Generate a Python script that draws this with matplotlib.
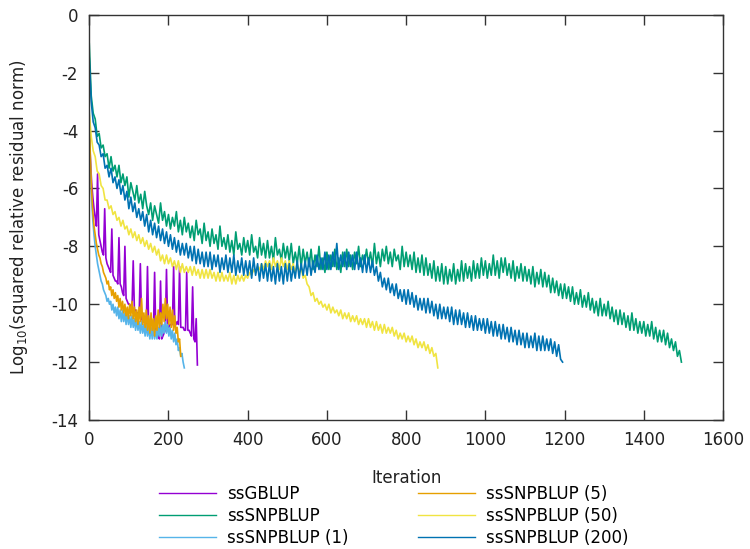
import numpy as np
import matplotlib
matplotlib.use("Agg")
import matplotlib.pyplot as plt

plt.rcParams['axes.unicode_minus'] = False
plt.rcParams['font.family'] = 'DejaVu Sans'

# log10 of squared relative residual norm
# long runs sampled every 5 iterations, short runs every 3
step_long = 5
step_short = 3

ssgblup = [-4.0, -5.0, -5.8, -6.3, -6.7, -7.0, -7.3, -5.5, -7.6, -7.8, -8.0, -8.2, -8.3, -6.7,
           -8.4, -8.6, -8.7, -8.8, -8.9, -7.4, -9.0, -9.1, -9.2, -9.2, -9.3, -7.7, -9.3, -9.4,
           -9.6, -9.7, -8.0, -9.8, -9.9, -10.0, -10.0, -10.1, -10.1, -8.5, -10.2, -10.2, -10.3,
           -10.3, -10.4, -8.6, -10.5, -10.6, -10.6, -10.7, -10.8, -8.7, -10.8, -10.9, -10.9,
           -11.0, -11.0, -8.9, -11.0, -11.1, -11.1, -11.2, -9.2, -11.2, -11.1, -11.0, -10.9,
           -8.8, -10.8, -10.8, -10.7, -10.7, -10.7, -8.7, -10.7, -10.7, -10.6, -10.7, -8.7,
           -10.8, -10.8, -10.8, -10.9, -10.9, -8.9, -10.9, -10.9, -11.0, -11.1, -9.4, -11.2,
           -11.3, -10.5, -12.1]

sssnpblup = [
    -1.0, -2.8, -3.4, -3.6, -4.2, -4.1, -4.6, -4.5, -4.9, -4.8,
    -5.3, -4.9, -5.4, -5.2, -5.6, -5.2, -5.8, -5.5, -5.9, -5.6,
    -6.3, -5.8, -6.1, -6.4, -5.9, -6.5, -6.2, -6.7, -6.1, -6.6,
    -6.9, -6.5, -7.1, -6.6, -6.9, -7.2, -6.5, -7.1, -6.8, -7.3,
    -6.9, -7.4, -7.0, -7.3, -6.8, -7.5, -7.1, -7.6, -7.0, -7.5,
    -7.2, -7.7, -7.3, -7.8, -7.1, -7.6, -7.4, -7.9, -7.2, -7.8,
    -7.5, -8.0, -7.4, -7.9, -7.6, -8.1, -7.3, -8.0, -7.7, -8.1,
    -7.6, -8.2, -7.8, -8.3, -7.5, -8.1, -7.9, -8.3, -7.7, -8.2,
    -7.8, -8.3, -7.6, -8.2, -8.0, -8.4, -7.7, -8.3, -7.9, -8.4,
    -7.8, -8.4, -8.0, -8.5, -7.7, -8.3, -8.1, -8.5, -7.9, -8.4,
    -8.0, -8.5, -7.9, -8.6, -8.2, -8.6, -8.0, -8.7, -8.1, -8.6,
    -8.2, -8.7, -8.1, -8.8, -8.3, -8.7, -8.0, -8.8, -8.4, -8.9,
    -8.2, -8.8, -8.3, -8.7, -8.1, -8.8, -8.4, -8.9, -8.2, -8.7,
    -8.1, -8.7, -8.3, -8.8, -8.2, -8.6, -8.0, -8.7, -8.3, -8.6,
    -8.1, -8.6, -8.2, -8.7, -7.9, -8.6, -8.2, -8.7, -8.1, -8.5,
    -8.0, -8.6, -8.2, -8.7, -8.1, -8.5, -8.3, -8.8, -8.0, -8.7,
    -8.2, -8.7, -8.3, -8.8, -8.2, -8.9, -8.4, -8.9, -8.3, -9.0,
    -8.4, -9.0, -8.6, -9.1, -8.5, -9.2, -8.7, -9.2, -8.6, -9.3,
    -8.7, -9.3, -8.8, -9.2, -8.6, -9.3, -8.8, -9.2, -8.5, -9.2,
    -8.6, -9.1, -8.7, -9.2, -8.5, -9.1, -8.6, -9.1, -8.4, -9.0,
    -8.5, -9.1, -8.6, -9.0, -8.3, -9.0, -8.5, -9.1, -8.4, -8.9,
    -8.4, -9.0, -8.6, -9.1, -8.5, -9.2, -8.7, -9.1, -8.6, -9.2,
    -8.7, -9.2, -8.8, -9.3, -8.7, -9.4, -8.9, -9.3, -8.8, -9.4,
    -8.9, -9.4, -9.0, -9.6, -9.1, -9.6, -9.2, -9.7, -9.3, -9.8,
    -9.3, -9.8, -9.4, -9.9, -9.4, -10.0, -9.6, -10.0, -9.5, -10.1,
    -9.7, -10.1, -9.6, -10.2, -9.8, -10.3, -9.9, -10.4, -9.8, -10.4,
    -10.0, -10.4, -9.9, -10.5, -10.1, -10.6, -10.2, -10.7, -10.2, -10.7,
    -10.3, -10.8, -10.4, -10.9, -10.3, -10.9, -10.5, -11.0, -10.6, -11.0,
    -10.6, -11.1, -10.7, -11.1, -10.6, -11.2, -10.8, -11.3, -10.9, -11.3,
    -10.9, -11.4, -11.0, -11.5, -11.2, -11.6, -11.3, -11.8, -11.6, -12.0]

sssnpblup_1 = [-3.3, -5.3, -6.4, -7.1, -7.6, -8.0, -8.3, -8.6, -8.8, -9.0, -9.2, -9.3, -9.5, -9.6,
               -9.7, -9.9, -9.8, -10.0, -9.9, -10.2, -10.0, -10.3, -10.1, -10.4, -10.1, -10.5,
               -10.2, -10.6, -10.2, -10.6, -10.3, -10.7, -10.3, -10.7, -10.4, -10.8, -10.4, -10.8,
               -10.5, -10.9, -10.5, -10.9, -10.6, -11.0, -10.6, -11.0, -10.7, -11.1, -10.7, -11.1,
               -10.8, -11.2, -10.8, -11.2, -10.8, -11.2, -10.9, -11.2, -10.8, -11.1, -10.7, -11.1,
               -10.7, -11.0, -10.6, -11.0, -10.7, -11.1, -10.8, -11.2, -10.9, -11.3, -11.0, -11.4,
               -11.2, -11.6, -11.5, -11.8, -11.7, -12.0, -12.2]

sssnpblup_5 = [-3.5, -5.0, -6.1, -6.8, -7.3, -7.6, -7.9, -8.1, -8.3, -8.4, -8.6, -8.7, -8.9, -9.0,
               -9.1, -9.3, -9.2, -9.5, -9.4, -9.7, -9.5, -9.8, -9.6, -9.9, -9.7, -10.1, -9.8,
               -10.2, -9.9, -10.3, -10.0, -10.4, -10.1, -10.5, -10.0, -10.4, -9.9, -10.5, -10.1,
               -10.6, -10.2, -10.7, -10.1, -10.6, -9.8, -10.7, -10.3, -10.8, -10.2, -10.9, -10.4,
               -11.0, -10.3, -10.9, -10.5, -11.1, -10.4, -10.9, -10.2, -10.8, -10.3, -10.7, -10.0,
               -10.6, -9.8, -10.5, -10.0, -10.7, -10.1, -10.8, -10.2, -10.9, -10.4, -11.0, -10.8,
               -11.3, -11.2, -11.8]

sssnpblup_50 = [
    -3.4, -4.2, -4.7, -4.9, -5.4, -5.5, -5.9, -6.0, -6.4, -6.4,
    -6.7, -6.6, -6.9, -6.8, -7.1, -7.0, -7.3, -7.1, -7.4, -7.3,
    -7.6, -7.4, -7.7, -7.5, -7.8, -7.6, -7.9, -7.7, -8.0, -7.8,
    -8.1, -7.9, -8.2, -8.0, -8.3, -8.1, -8.5, -8.3, -8.6, -8.3,
    -8.6, -8.4, -8.7, -8.5, -8.8, -8.5, -8.9, -8.6, -8.9, -8.7,
    -8.9, -8.7, -9.0, -8.7, -9.0, -8.8, -9.1, -8.8, -9.1, -8.8,
    -9.1, -8.8, -9.1, -8.9, -9.2, -8.9, -9.2, -8.9, -9.2, -9.0,
    -9.2, -8.9, -9.3, -9.0, -9.3, -9.0, -9.2, -9.0, -9.2, -9.0,
    -9.1, -8.9, -9.0, -8.8, -8.9, -8.7, -8.8, -8.6, -8.8, -8.5,
    -8.7, -8.5, -8.8, -8.4, -8.7, -8.5, -8.8, -8.4, -8.7, -8.5,
    -8.8, -8.5, -8.8, -8.6, -8.9, -8.6, -8.9, -8.7, -9.1, -9.0,
    -9.3, -9.4, -9.7, -9.6, -9.9, -9.8, -10.0, -9.9, -10.1, -10.0,
    -10.2, -10.0, -10.3, -10.1, -10.3, -10.2, -10.4, -10.2, -10.5, -10.3,
    -10.5, -10.3, -10.6, -10.4, -10.6, -10.4, -10.7, -10.5, -10.7, -10.5,
    -10.8, -10.5, -10.8, -10.6, -10.9, -10.6, -10.9, -10.7, -11.0, -10.7,
    -11.0, -10.8, -11.0, -10.8, -11.1, -10.9, -11.2, -11.0, -11.2, -11.0,
    -11.3, -11.1, -11.3, -11.1, -11.4, -11.2, -11.5, -11.3, -11.5, -11.3,
    -11.6, -11.4, -11.7, -11.5, -11.8, -11.7, -12.2]

sssnpblup_200 = [
    -1.5, -3.0, -3.7, -3.9, -4.4, -4.5, -4.9, -4.8, -5.3, -5.2,
    -5.6, -5.3, -5.8, -5.6, -6.0, -5.7, -6.2, -5.9, -6.4, -6.1,
    -6.7, -6.3, -6.8, -6.5, -7.0, -6.7, -7.1, -6.8, -7.3, -6.9,
    -7.5, -7.1, -7.6, -7.2, -7.7, -7.3, -7.8, -7.4, -7.9, -7.5,
    -8.0, -7.6, -8.1, -7.7, -8.2, -7.8, -8.3, -7.9, -8.3, -7.9,
    -8.4, -8.0, -8.5, -8.0, -8.6, -8.1, -8.6, -8.2, -8.7, -8.2,
    -8.7, -8.2, -8.8, -8.3, -8.7, -8.3, -8.9, -8.4, -8.8, -8.3,
    -8.9, -8.4, -8.9, -8.3, -9.0, -8.5, -8.9, -8.4, -9.0, -8.5,
    -9.0, -8.5, -9.1, -8.4, -9.0, -8.6, -9.2, -8.6, -9.1, -8.6,
    -9.2, -8.6, -9.2, -8.7, -9.3, -8.6, -9.2, -8.7, -9.3, -8.6,
    -9.2, -8.6, -9.2, -8.7, -9.1, -8.5, -9.1, -8.6, -9.0, -8.5,
    -9.0, -8.4, -9.0, -8.5, -8.9, -8.3, -8.8, -8.4, -8.8, -8.2,
    -8.8, -8.3, -8.8, -8.2, -8.7, -7.9, -8.8, -8.3, -8.7, -8.2,
    -8.8, -8.2, -8.7, -8.3, -8.8, -8.2, -8.8, -8.4, -8.9, -8.3,
    -8.9, -8.4, -8.9, -8.5, -9.0, -8.7, -9.2, -8.9, -9.4, -9.1,
    -9.5, -9.1, -9.6, -9.3, -9.7, -9.3, -9.8, -9.5, -9.9, -9.5,
    -10.0, -9.5, -10.0, -9.6, -10.1, -9.7, -10.2, -9.8, -10.2, -9.8,
    -10.3, -9.8, -10.3, -9.9, -10.4, -10.0, -10.5, -10.0, -10.5, -10.1,
    -10.5, -10.1, -10.6, -10.1, -10.7, -10.2, -10.7, -10.2, -10.7, -10.3,
    -10.8, -10.3, -10.8, -10.4, -10.9, -10.4, -10.9, -10.5, -10.9, -10.5,
    -11.0, -10.5, -11.0, -10.6, -11.1, -10.6, -11.1, -10.7, -11.2, -10.7,
    -11.2, -10.8, -11.3, -10.8, -11.3, -10.9, -11.4, -10.9, -11.4, -11.0,
    -11.5, -11.0, -11.5, -11.1, -11.5, -11.0, -11.6, -11.1, -11.6, -11.1,
    -11.6, -11.2, -11.6, -11.2, -11.7, -11.3, -11.8, -11.4, -11.9, -12.0]

series = [
    ("ssGBLUP", ssgblup, step_short, "#9400D3"),
    ("ssSNPBLUP", sssnpblup, step_long, "#009E73"),
    ("ssSNPBLUP (1)", sssnpblup_1, step_short, "#56B4E9"),
    ("ssSNPBLUP (5)", sssnpblup_5, step_short, "#E69F00"),
    ("ssSNPBLUP (50)", sssnpblup_50, step_long, "#F0E442"),
    ("ssSNPBLUP (200)", sssnpblup_200, step_long, "#0072B2"),
]

fig = plt.figure(figsize=(7.5, 5.49), dpi=100)
ax = fig.add_axes([0.119, 0.235, 0.845, 0.738])

for label, vals, step, color in series:
    it = np.arange(len(vals)) * step
    ax.plot(it, vals, color=color, lw=1.2, label=label)

ax.set_xlim(0, 1600)
ax.set_ylim(-14, 0)
ax.set_xticks(np.arange(0, 1601, 200))
ax.set_yticks(np.arange(-14, 1, 2))
ax.tick_params(direction='in', top=True, right=True, length=7, width=1,
               labelsize=12, colors='#333333', labelcolor='#222222', pad=8)
for sp in ax.spines.values():
    sp.set_color('#333333')
    sp.set_linewidth(1)

ax.set_xlabel("Iteration", fontsize=12, color='#222222', labelpad=14)
ax.set_ylabel("Log$_{10}$(squared relative residual norm)", fontsize=12, color='#222222', labelpad=15)

leg = fig.legend(loc='upper left', bbox_to_anchor=(0.212, 0.117), ncol=2, frameon=False,
                 fontsize=12, handlelength=3.4, handletextpad=0.7, columnspacing=4.15,
                 labelspacing=0.25, borderpad=0, borderaxespad=0)
for h in leg.get_lines():
    h.set_linewidth(1.0)

fig.savefig("out.png", dpi=100)
